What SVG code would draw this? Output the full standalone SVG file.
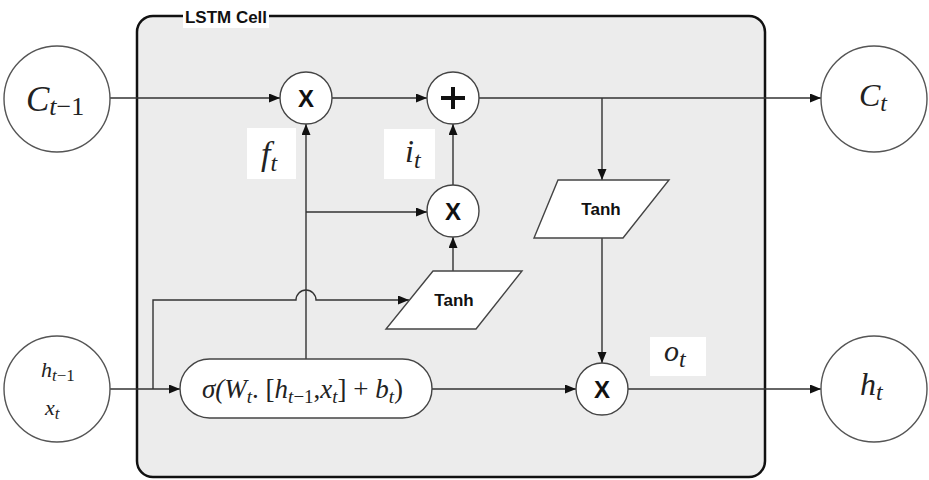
<svg xmlns="http://www.w3.org/2000/svg" width="929" height="480" viewBox="0 0 929 480">
<defs>
<marker id="arr" markerUnits="userSpaceOnUse" markerWidth="12" markerHeight="10" refX="11" refY="4.5" orient="auto">
<path d="M0,0 L11,4.5 L0,9 z" fill="#111"/>
</marker>
<style>
.node{fill:#fff;stroke:#444;stroke-width:1.4}
.io{fill:#fff;stroke:#555;stroke-width:1.4}
.op{font-family:"Liberation Sans",Arial,sans-serif;font-weight:bold;font-size:24px;fill:#111;text-anchor:middle}
.lbl{font-family:"Liberation Sans",Arial,sans-serif;font-weight:bold;font-size:17px;fill:#111;text-anchor:middle}
.math{font-family:"Liberation Serif","Times New Roman",serif;font-style:italic;fill:#222}
.conn path,.conn line{fill:none;stroke:#333;stroke-width:1.4}
.box{fill:#fff}
</style>
</defs>
<rect width="929" height="480" fill="#fff"/>
<g id="cell">
<rect x="137" y="16" width="628" height="461" rx="16" fill="#ececec" stroke="#111" stroke-width="2.5"/>
<rect x="183" y="6" width="86" height="22" fill="#fff"/>
<text x="226" y="23" class="lbl" font-size="16" textLength="82" lengthAdjust="spacingAndGlyphs">LSTM Cell</text>
</g>
<g id="labels">
<rect class="box" x="247" y="128" width="49" height="51"/>
<text class="math" x="261" y="165" font-size="34">f<tspan font-size="24" dy="6">t</tspan></text>
<rect class="box" x="384" y="129" width="51" height="50"/>
<text class="math" x="405" y="162" font-size="32">i<tspan font-size="24" dy="6">t</tspan></text>
<rect class="box" x="650" y="337" width="56" height="39"/>
<text class="math" x="664" y="361" font-size="30">o<tspan font-size="24" dy="6">t</tspan></text>
</g>
<g class="conn" id="connectors">
<line x1="110" y1="98" x2="280" y2="98" marker-end="url(#arr)"/>
<line x1="332" y1="98" x2="427" y2="98" marker-end="url(#arr)"/>
<line x1="479" y1="98" x2="821" y2="98" marker-end="url(#arr)"/>
<line x1="602" y1="98" x2="602" y2="180" marker-end="url(#arr)"/>
<line x1="602" y1="238" x2="602" y2="363" marker-end="url(#arr)"/>
<line x1="432" y1="389" x2="576" y2="389" marker-end="url(#arr)"/>
<line x1="628" y1="389" x2="821" y2="389" marker-end="url(#arr)"/>
<line x1="110" y1="389" x2="180" y2="389" marker-end="url(#arr)"/>
<path d="M153,389 V300 H296 A10,10 0 0 1 316,300 H409" marker-end="url(#arr)"/>
<line x1="306" y1="359" x2="306" y2="124" marker-end="url(#arr)"/>
<line x1="306" y1="212" x2="427" y2="212" marker-end="url(#arr)"/>
<line x1="453" y1="271" x2="453" y2="237" marker-end="url(#arr)"/>
<line x1="453" y1="185" x2="453" y2="124" marker-end="url(#arr)"/>
</g>
<g id="c_prev">
<circle class="io" cx="57" cy="99" r="53"/>
<text class="math" x="26" y="111" font-size="35">C<tspan font-size="26" dy="4">t</tspan><tspan font-size="26" font-style="normal">−1</tspan></text>
</g>
<g id="h_prev">
<circle class="io" cx="57" cy="389" r="53"/>
<text class="math" x="41" y="377" font-size="22">h<tspan font-size="17" dy="4">t</tspan><tspan font-size="17" font-style="normal">−1</tspan></text>
<text class="math" x="45" y="415" font-size="22">x<tspan font-size="17" dy="4">t</tspan></text>
</g>
<g id="c_t">
<circle class="io" cx="874" cy="99" r="53"/>
<text class="math" x="859" y="106" font-size="32">C<tspan font-size="24" dy="5">t</tspan></text>
</g>
<g id="h_t">
<circle class="io" cx="874" cy="389" r="53"/>
<text class="math" x="860" y="395" font-size="32">h<tspan font-size="24" dy="5">t</tspan></text>
</g>
<g id="forget_mul">
<circle class="node" cx="306" cy="98" r="26"/>
<text class="op" x="306" y="107">X</text>
</g>
<g id="add">
<circle class="node" cx="453" cy="98" r="26"/>
<path d="M441,98 H465 M453,87 V109" stroke="#111" stroke-width="4"/>
</g>
<g id="input_mul">
<circle class="node" cx="453" cy="211" r="26"/>
<text class="op" x="453" y="220">X</text>
</g>
<g id="output_mul">
<circle class="node" cx="602" cy="389" r="26"/>
<text class="op" x="602" y="398">X</text>
</g>
<g id="tanh_c">
<polygon class="node" points="558,180 669,180 623,238 534,238"/>
<text class="lbl" x="601" y="215">Tanh</text>
</g>
<g id="tanh_in">
<polygon class="node" points="433,271 522,271 476,329 386,329"/>
<text class="lbl" x="454" y="306">Tanh</text>
</g>
<g id="sigma">
<rect class="node" x="180" y="359" width="252" height="59" rx="29.5"/>
<text class="math" x="202" y="398" font-size="27">σ(W<tspan font-size="19" dy="5">t</tspan><tspan dy="-5" font-style="normal">. [</tspan>h<tspan font-size="19" dy="5">t</tspan><tspan font-size="19" font-style="normal">−1</tspan><tspan dy="-5" font-style="normal">,</tspan>x<tspan font-size="19" dy="5">t</tspan><tspan dy="-5" font-style="normal">] + </tspan>b<tspan font-size="19" dy="5">t</tspan><tspan dy="-5" font-style="normal">)</tspan></text>
</g>
</svg>
